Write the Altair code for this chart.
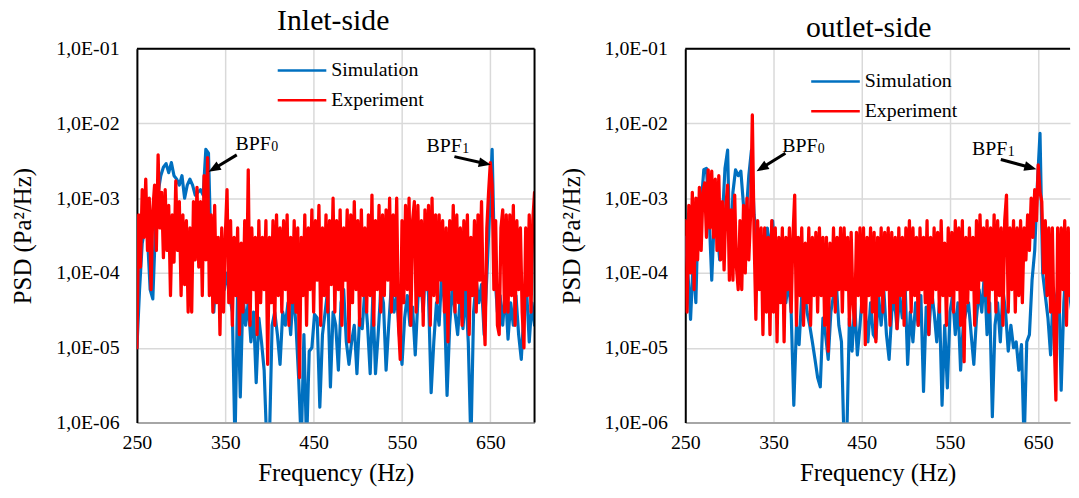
import math
import altair as alt
import pandas as pd

FONT = "Liberation Serif"
BLUE = "#0070C0"
RED = "#FF0000"
GRID = "#D9D9D9"

SERIES = ["Simulation", "Experiment"]
COLORS = [BLUE, RED]
PANEL_TITLES = ["Inlet-side", "outlet-side"]
X_TITLE = "Frequency (Hz)"
Y_TITLE = "PSD (Pa²/Hz)"
X_TICKS = [250, 350, 450, 550, 650]
Y_TICKS = [1e-6, 1e-5, 1e-4, 1e-3, 1e-2, 1e-1]

F0 = 250        # first frequency (Hz)
SIM_STEP = 3    # Hz between simulation samples
EXP_STEP = 2    # Hz between experiment samples

# ---------------- Inlet-side ----------------
inlet_sim = [
    1e-5, 6e-5, 2.5e-4, 4e-4, 3e-4, 6e-5, 4.5e-5, 4e-4, 1.2e-3, 2.0e-3,
    2.6e-3, 2.9e-3, 2.2e-3, 3.0e-3, 2.0e-3, 1.8e-3, 1.5e-3, 2.0e-3, 1.0e-3, 1.5e-3,
    1.8e-3, 1.5e-3, 1.1e-3, 1.2e-3, 1.3e-3, 1.1e-3, 4.5e-3, 4.0e-3, 1.7e-4, 3e-5,
    1.2e-4, 8e-5, 1.5e-4, 6e-5, 1.0e-4, 5e-5, 3e-5, 5e-7, 6e-5, 2.2e-6,
    5e-5, 2e-5, 4e-5, 1.2e-5, 3e-5, 3.4e-6, 2.5e-5, 1.2e-5, 5e-6, 5e-7,
    6e-7, 2e-5, 3e-5, 1.5e-5, 6e-6, 3e-5, 2e-5, 4e-5, 1.5e-5, 6e-5,
    2e-5, 4e-6, 5e-7, 1.5e-5, 5e-7, 9e-6, 1e-5, 2.8e-5, 2.5e-5, 1.6e-6,
    1.5e-5, 3e-5, 6e-5, 3e-6, 3e-5, 2e-5, 5e-6, 4e-5, 6e-5, 1.2e-5,
    6e-6, 1.2e-5, 2e-5, 4.5e-6, 2.5e-5, 1.8e-5, 6e-5, 2e-5, 4.5e-6, 5e-5,
    4.5e-6, 1.5e-5, 6e-5, 4e-5, 5e-6, 2e-5, 7e-5, 3e-5, 5e-5, 1.5e-5,
    6e-6, 2.5e-5, 5e-5, 2e-5, 3.5e-5, 8e-6, 4.5e-5, 9e-5, 3e-5, 1.6e-4,
    5e-5, 2.5e-6, 1.2e-5, 4e-5, 2e-5, 1.0e-4, 4e-5, 2.3e-6, 2e-5, 7e-5,
    3e-5, 1.5e-5, 5e-5, 1.8e-5, 6e-5, 1.2e-5, 5e-7, 3e-5, 8e-5, 4e-5,
    7e-5, 1.5e-5, 9e-5, 6e-4, 4.5e-3, 1.0e-4, 3e-5, 5e-5, 2e-5, 6e-5,
    1.3e-5, 4e-5, 2e-5, 5e-5, 1.5e-5, 7e-6, 3e-5, 6e-5, 1.2e-5, 4e-5,
    2e-5,
]
inlet_exp = [
    1e-5, 6e-4, 1.2e-4, 1.3e-3, 3e-4, 1.8e-3, 2e-4, 1.0e-3, 6e-5, 7e-4,
    1.5e-3, 2e-4, 3.8e-3, 4e-4, 1.2e-3, 1.6e-4, 1.3e-3, 2e-4, 8e-4, 5e-5,
    6e-4, 1.4e-4, 1.7e-3, 2e-4, 9e-4, 5e-5, 6e-4, 7e-5, 5e-4, 3e-5,
    4e-4, 3e-5, 9e-4, 1.5e-4, 1.4e-3, 1.2e-4, 9e-4, 5e-5, 2e-3, 1.5e-4,
    3.5e-3, 5e-5, 6e-4, 3e-5, 8e-4, 4e-5, 3e-4, 1.5e-5, 4e-4, 3e-5,
    3e-4, 1.3e-3, 4e-5, 5e-4, 2e-5, 3e-4, 5e-5, 4e-4, 1.5e-5, 2.5e-4,
    3e-5, 5e-4, 4e-5, 2.4e-3, 2e-5, 4e-4, 6e-5, 3e-4, 1.5e-5, 5e-4,
    4e-5, 3e-4, 6e-5, 5e-4, 6e-6, 3e-4, 4e-5, 5e-4, 2e-5, 6e-4,
    5e-5, 4e-4, 3e-5, 5e-4, 6e-5, 6e-4, 2e-5, 3e-4, 4e-5, 5e-4,
    3e-5, 4e-4, 4e-6, 3e-4, 5e-5, 6e-4, 2e-5, 4e-4, 6e-5, 7e-4,
    3e-5, 5e-4, 8e-5, 8e-4, 2e-5, 4e-4, 5e-5, 6e-4, 3e-5, 5e-4,
    7e-5, 1e-3, 3e-5, 5e-4, 6e-5, 7e-4, 2e-5, 4e-4, 8e-5, 7e-4,
    1.2e-5, 6e-4, 4e-5, 9e-4, 6e-5, 5e-4, 2e-5, 7e-4, 5e-5, 4e-4,
    3e-5, 6e-4, 5e-5, 1.1e-3, 2e-5, 5e-4, 6e-5, 8e-4, 3e-5, 6e-4,
    5e-5, 7e-4, 8e-5, 1.0e-3, 3e-5, 6e-4, 5e-5, 1e-3, 2e-5, 7e-6,
    5e-4, 4e-5, 8e-4, 6e-5, 1.0e-3, 2e-5, 5e-4, 9e-4, 3e-5, 8e-4,
    5e-5, 5e-4, 2e-5, 7e-4, 6e-5, 8e-4, 2e-5, 1.0e-3, 5e-5, 6e-4,
    4e-5, 6e-4, 8e-5, 5e-4, 3e-5, 4e-4, 1.2e-5, 5e-4, 6e-5, 8e-4,
    3e-5, 6e-4, 4e-5, 4e-4, 2e-5, 5e-4, 6e-5, 6e-4, 1.5e-5, 3e-4,
    5e-5, 5e-4, 3e-5, 6e-4, 8e-5, 9e-4, 4e-5, 1.1e-5, 4e-4, 1.2e-3,
    3e-3, 1.5e-3, 6e-5, 5e-4, 2e-5, 1.5e-5, 4e-4, 7e-4, 3e-5, 6e-4,
    3e-5, 6e-4, 5e-5, 8e-4, 2e-5, 5e-4, 6e-5, 4e-4, 3e-5, 1e-5,
    4e-4, 5e-5, 6e-4, 3e-5, 5e-4, 1.2e-3,
]

# ---------------- outlet-side ----------------
outlet_sim = [
    3e-4, 1e-4, 2.4e-5, 1.5e-4, 4e-5, 1e-3, 8e-4, 2.4e-3, 2.5e-3, 6e-4,
    8e-5, 6e-4, 4e-4, 1.5e-4, 5e-4, 2.5e-3, 4.4e-3, 1e-4, 1.2e-3, 2.4e-3,
    2.0e-3, 2.3e-3, 8e-4, 6e-4, 2e-3, 4.4e-3, 6e-4, 3e-4, 1.5e-4, 2.5e-4,
    1.2e-4, 4e-4, 2e-4, 5e-4, 1.5e-4, 8e-5, 6e-5, 1.2e-4, 4e-5, 8e-5,
    3e-5, 1.7e-6, 2e-5, 1.1e-5, 5e-5, 6e-5, 3e-5, 2e-5, 1.2e-5, 7e-6,
    4e-6, 3e-6, 2.5e-5, 1.5e-5, 7e-6, 3e-5, 5e-5, 8e-5, 2e-5, 1.2e-5,
    5e-7, 6e-7, 2.5e-5, 9e-6, 4e-5, 8e-6, 2e-5, 6e-5, 3e-5, 1.2e-5,
    4e-5, 1.5e-5, 1.3e-5, 5e-5, 2e-5, 6e-5, 1.5e-5, 7e-6, 3e-5, 4.5e-5,
    1.8e-5, 5e-5, 2.5e-5, 8e-5, 6e-6, 3e-5, 1.2e-5, 4e-5, 2e-5, 5e-5,
    2.6e-6, 3.5e-5, 1.5e-5, 6e-5, 3e-5, 1.2e-5, 4e-5, 1.7e-6, 2e-5, 2.9e-6,
    3e-5, 5e-5, 1.5e-5, 4e-5, 5e-6, 2e-5, 3e-5, 4e-5, 1.5e-5, 6e-6,
    2.5e-5, 6e-5, 3e-5, 1e-4, 1.5e-5, 4e-5, 1.2e-6, 2e-5, 4e-5, 1.2e-5,
    6e-5, 3e-5, 9e-6, 2e-5, 1e-5, 1.2e-5, 5e-6, 1.1e-5, 5e-7, 1.2e-5,
    1.5e-5, 8e-5, 2e-4, 1.5e-3, 7.4e-3, 1e-4, 5e-5, 2.5e-5, 8e-6, 6e-5,
    3e-5, 1e-4, 2.7e-6, 4e-5, 1.5e-4, 6e-5, 3e-5, 1e-4, 4e-5, 6e-5,
    2e-5,
]
outlet_exp = [
    5e-4, 3e-5, 8e-4, 1e-4, 1.2e-3, 6e-5, 1e-3, 1.5e-4, 1.4e-3, 2e-4,
    1.2e-3, 1.6e-3, 3e-4, 2.4e-3, 4e-4, 2.3e-3, 3e-4, 1.8e-3, 2e-4, 2.0e-3,
    1.5e-4, 9e-4, 1.1e-4, 8e-4, 1.5e-3, 8e-5, 7e-4, 8e-5, 1.1e-3, 1.2e-4,
    6e-5, 5e-4, 6e-5, 8e-4, 1e-4, 1e-3, 1.5e-4, 6e-4, 1.3e-2, 3e-4,
    2.4e-5, 5e-4, 6e-5, 4e-4, 1.5e-5, 4e-4, 3e-5, 3e-4, 1.5e-5, 5e-4,
    3e-5, 4e-4, 1.2e-5, 3e-4, 4e-5, 4e-4, 1.2e-5, 3e-4, 6e-5, 4e-4,
    3e-5, 3e-4, 1.1e-3, 2e-5, 3e-4, 5e-5, 4e-4, 2e-5, 2.5e-4, 4e-5,
    4e-4, 2e-5, 3e-4, 5e-5, 3.5e-4, 3e-5, 4e-4, 5e-5, 3e-4, 2e-5,
    3e-4, 9e-6, 2.5e-4, 5e-5, 4e-4, 3e-5, 3e-4, 6e-5, 4e-4, 3e-5,
    4e-4, 6e-5, 3e-4, 2e-5, 3.5e-4, 4e-5, 2e-5, 3.5e-4, 5e-5, 4e-4,
    3e-5, 4e-4, 1.1e-5, 3e-4, 5e-5, 4e-4, 3e-5, 3.5e-4, 1.2e-5, 3e-4,
    5e-5, 4e-4, 3e-5, 3.5e-4, 6e-5, 4e-4, 2e-5, 3.5e-4, 4e-5, 3e-4,
    1.8e-5, 4e-4, 5e-5, 3e-4, 2e-5, 4e-4, 6e-5, 5e-4, 3e-5, 4e-4,
    5e-5, 3e-4, 2e-5, 4e-4, 6e-5, 3e-4, 4e-5, 5e-4, 1.5e-5, 3e-4,
    4e-5, 4e-4, 6e-5, 3.5e-4, 3e-5, 5e-4, 5e-5, 2.5e-4, 2e-5, 4e-4,
    5e-5, 3.5e-4, 3e-5, 5e-4, 6e-5, 4e-4, 2e-5, 5e-4, 6.5e-6, 3e-4,
    4e-5, 4e-4, 6e-5, 3e-4, 2e-5, 5e-4, 4e-5, 6e-4, 8e-5, 4e-4,
    5e-5, 5e-4, 3e-5, 4e-4, 6e-5, 6e-4, 3e-5, 5e-4, 5e-5, 4e-4,
    2e-5, 5e-4, 1.1e-3, 3e-5, 4e-4, 6e-5, 5e-4, 3e-5, 4e-4, 5e-5,
    5e-4, 4e-5, 4e-4, 1.5e-4, 6e-4, 2e-4, 1e-3, 3e-4, 1.3e-3, 5e-4,
    2.8e-3, 1.2e-3, 9e-4, 1e-4, 5e-4, 5e-5, 4e-4, 3e-5, 4e-4, 1.5e-5,
    2e-6, 4e-4, 3e-5, 4e-4, 6e-5, 5e-4, 2e-5, 4e-4, 5e-5, 3e-4,
    3e-5, 4e-4, 6e-5, 3e-4, 2e-5, 4e-4,
]

# BPF annotations: label, subscript, text anchor (Hz, PSD), arrow tail (Hz, PSD), arrow head (Hz, PSD)
inlet_ann = [
    ("BPF", "0", 361.5, 4.35e-3, 363.0, 3.8e-3, 331.3, 2.26e-3),
    ("BPF", "1", 577.7, 4.2e-3, 609.3, 3.6e-3, 650.4, 2.8e-3),
]
outlet_ann = [
    ("BPF", "0", 359.8, 4.2e-3, 363.5, 4.0e-3, 330.9, 2.3e-3),
    ("BPF", "1", 575.0, 3.8e-3, 607.6, 3.3e-3, 647.8, 2.45e-3),
]

H = 377
ARROW_HEAD = "M0,-1L0.8,1L-0.8,1Z"


def arrow_table(ann, xmax, W):
    rows = []
    px = lambda f: (f - F0) / (xmax - F0) * W
    py = lambda v: (-1 - math.log10(v)) / 5 * H
    for label, sub, tx, ty, x1, y1, x2, y2 in ann:
        dx, dy = px(x2) - px(x1), py(y2) - py(y1)
        t = 1 - 6 / math.hypot(dx, dy)
        hx = x1 + (x2 - x1) * t
        hy = 10 ** (math.log10(y1) + (math.log10(y2) - math.log10(y1)) * t)
        ang = math.degrees(math.atan2(dx, -dy)) % 360
        rows.append(dict(label=label, sub=sub, tx=tx, ty=ty, x1=x1, y1=y1,
                         hx=hx, hy=hy, ang=ang))
    return pd.DataFrame(rows)


def panel(sim, exp, title, title_x, title_y, xmax, W, ann, lx, ly, right_border):
    xs = alt.Scale(domain=[F0, xmax], nice=False, zero=False)
    ys = alt.Scale(type="log", domain=[1e-6, 1e-1], nice=False)
    xa = alt.Axis(values=X_TICKS, title=X_TITLE, grid=True, ticks=False,
                  domainColor="#A6A6A6", domainWidth=2, labelPadding=10,
                  titlePadding=8, labelFlush=False)
    ya = alt.Axis(values=Y_TICKS, title=Y_TITLE, grid=True, ticks=False,
                  domainColor="black", domainWidth=2, labelPadding=18,
                  titlePadding=20,
                  labelExpr="'1,0E-0' + round(-log(datum.value)/LN10)")

    sim_df = pd.DataFrame({"freq": [F0 + SIM_STEP * i for i in range(len(sim))], "psd": sim})
    exp_df = pd.DataFrame({"freq": [F0 + EXP_STEP * i for i in range(len(exp))], "psd": exp})

    layers = []
    layers.append(alt.Chart(sim_df).mark_line(color=BLUE, strokeWidth=3.2, clip=True,
                                              strokeJoin="round", strokeCap="round").encode(
        x=alt.X("freq:Q", scale=xs, axis=xa), y=alt.Y("psd:Q", scale=ys, axis=ya)))
    layers.append(alt.Chart(exp_df).mark_line(color=RED, strokeWidth=3.3, clip=True,
                                              strokeJoin="round", strokeCap="round").encode(
        x=alt.X("freq:Q", scale=xs), y=alt.Y("psd:Q", scale=ys)))

    one = pd.DataFrame({"k": [0]})
    # plot frame (top, optional right)
    layers.append(alt.Chart(one).mark_rule(color="black", strokeWidth=2).encode(
        x=alt.value(0), x2=alt.value(W), y=alt.value(0)))
    if right_border:
        layers.append(alt.Chart(one).mark_rule(color="black", strokeWidth=2).encode(
            x=alt.value(W), y=alt.value(0), y2=alt.value(H)))
    # invisible spacer so both panels have the same top extent
    layers.append(alt.Chart(one).mark_rule(opacity=0, strokeOpacity=0).encode(
        x=alt.value(5), y=alt.value(-41), y2=alt.value(0)))

    # panel title
    layers.append(alt.Chart(one).mark_text(font=FONT, fontSize=30, align="center",
                                           baseline="alphabetic", color="black").encode(
        x=alt.value(title_x), y=alt.value(title_y), text=alt.value(title)))

    # legend
    for i, (name, col) in enumerate(zip(SERIES, COLORS)):
        yy = ly + 30 * i
        layers.append(alt.Chart(one).mark_rule(color=col, strokeWidth=2.5).encode(
            x=alt.value(lx), x2=alt.value(lx + 49), y=alt.value(yy)))
        layers.append(alt.Chart(one).mark_text(font=FONT, fontSize=20, align="left",
                                               baseline="middle", color="black").encode(
            x=alt.value(lx + 54), y=alt.value(yy), text=alt.value(name)))

    # BPF arrows and labels
    adf = arrow_table(ann, xmax, W)
    layers.append(alt.Chart(adf).mark_rule(color="black", strokeWidth=3).encode(
        x=alt.X("x1:Q", scale=xs), y=alt.Y("y1:Q", scale=ys), x2="hx:Q", y2="hy:Q"))
    layers.append(alt.Chart(adf).mark_point(shape=ARROW_HEAD, filled=True, color="black",
                                            opacity=1, size=150, strokeWidth=0).encode(
        x=alt.X("hx:Q", scale=xs), y=alt.Y("hy:Q", scale=ys),
        angle=alt.Angle("ang:Q", scale=None)))
    layers.append(alt.Chart(adf).mark_text(font=FONT, fontSize=20, align="left",
                                           baseline="alphabetic", color="black").encode(
        x=alt.X("tx:Q", scale=xs), y=alt.Y("ty:Q", scale=ys), text="label:N"))
    layers.append(alt.Chart(adf).mark_text(font=FONT, fontSize=14, align="left",
                                           baseline="alphabetic", color="black",
                                           dx=36, dy=1).encode(
        x=alt.X("tx:Q", scale=xs), y=alt.Y("ty:Q", scale=ys), text="sub:N"))

    return alt.layer(*layers).properties(width=W, height=H)


left = panel(inlet_sim, inlet_exp, PANEL_TITLES[0], 198, -19, 700, 401, inlet_ann, 142, 22, True)
right = panel(outlet_sim, outlet_exp, PANEL_TITLES[1], 185, -12, 686, 388, outlet_ann, 127, 33, False)

chart = alt.hconcat(left, right, spacing=24).configure(
    font=FONT, padding={"left": 3, "top": -4, "right": 0, "bottom": 0}
).configure_view(stroke=None).configure_axis(
    labelFont=FONT, titleFont=FONT, labelFontSize=20, titleFontSize=25,
    titleFontWeight="normal", labelColor="black", titleColor="black",
    gridColor=GRID, gridWidth=1.5,
)

chart.save("out.html", embed_options={"renderer": "svg", "actions": False})
